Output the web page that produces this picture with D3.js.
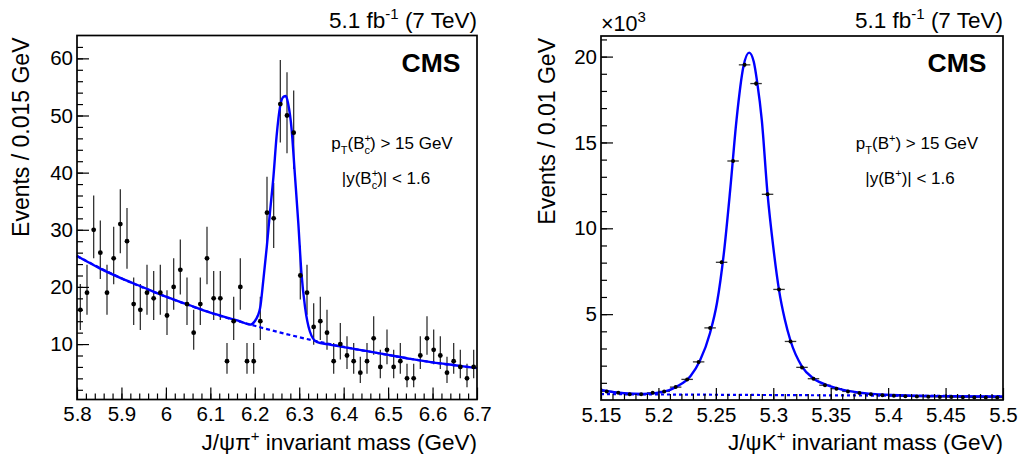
<!DOCTYPE html>
<html>
<head>
<meta charset="utf-8">
<script src="https://cdn.jsdelivr.net/npm/d3@7"></script>
<style>
  body { margin: 0; background: #fff; }
  svg { display: block; font-family: "Liberation Sans", Arial, Helvetica, sans-serif; }
</style>
</head>
<body>
<div id="root"></div>
<script>
// ---- left panel: J/psi pi+ (Bc) ----
const bcMassLow = 5.8, bcBinWidth = 0.015;
const bcCounts = [16, 19, 30, 26, 19, 25, 31, 28, 17, 16,
                  19, 18, 19, 15, 20, 23, 17, 12, 17, 25,
                  18, 18, 7, 14, 20, 7, 7, 14, 33, 32,
                  52, 50, 47, 22, 19, 13, 14, 12, 7, 10,
                  8, 7, 5, 7, 11, 6, 9, 6, 7, 4,
                  4, 8, 11, 9, 8, 5, 7, 6, 4, 6];
// fit curves
const bcFitMass = [5.8, 5.85, 5.9, 5.95, 6.0, 6.05, 6.1, 6.144, 6.17, 6.189,
                   6.2, 6.207, 6.212, 6.219, 6.227, 6.234, 6.242, 6.249, 6.257, 6.265,
                   6.27, 6.275, 6.283, 6.29, 6.298, 6.305, 6.313, 6.324, 6.339, 6.369,
                   6.414, 6.45, 6.5, 6.55, 6.6, 6.65, 6.7];
const bcFitVal = [25.4, 23.3, 21.5, 19.9, 18.3, 16.9, 15.5, 14.5, 13.9, 13.4,
                  14.0, 15.0, 16.3, 21.0, 27.0, 32.9, 39.3, 46.3, 51.6, 53.3,
                  53.4, 52.1, 47.5, 39.9, 31.1, 22.4, 16.5, 12.2, 10.4, 9.9,
                  9.3, 8.8, 8.1, 7.4, 6.8, 6.3, 5.8];
const bcBkgMass = [5.8, 5.9, 6.0, 6.1, 6.2, 6.3, 6.4, 6.5, 6.6, 6.7];
const bcBkgVal = [25.4, 21.5, 18.3, 15.5, 13.2, 11.2, 9.5, 8.1, 6.8, 5.8];
const bcXTicks = [5.8, 5.9, 6, 6.1, 6.2, 6.3, 6.4, 6.5, 6.6, 6.7];
const bcYTicks = [10, 20, 30, 40, 50, 60];

// ---- right panel: J/psi K+ (B+) ----
const buMassLow = 5.15, buBinWidth = 0.01;
const buCounts = [500, 420, 340, 340, 420, 500, 750, 1200, 2220, 4200,
                  8020, 13920, 19520, 18430, 11980, 6440, 3410, 1900, 1240, 860,
                  660, 500, 410, 330, 270, 250, 220, 200, 190, 180,
                  170, 160, 150, 150, 140];
const buFitMass = [5.15, 5.17, 5.187, 5.204, 5.216, 5.228, 5.236, 5.245, 5.251, 5.257,
                   5.2625, 5.268, 5.274, 5.279, 5.283, 5.286, 5.29, 5.295, 5.3, 5.305,
                   5.31, 5.315, 5.325, 5.335, 5.35, 5.364, 5.393, 5.422, 5.452, 5.5];
const buFitVal = [580, 390, 350, 470, 780, 1400, 2270, 3920, 5660, 8570,
                  12250, 16320, 19420, 20230, 19700, 18500, 16300, 12000, 8900, 6400,
                  4700, 3450, 1950, 1250, 800, 550, 320, 250, 220, 200];
const buBkgMass = [5.15, 5.5];
const buBkgVal = [340, 220];
const buXTicks = [5.15, 5.2, 5.25, 5.3, 5.35, 5.4, 5.45, 5.5];
const buYTicks = [5000, 10000, 15000, 20000];

const width = 1020;
const height = 454;
const blue = "#0000ff";

const svg = d3.select("#root")
  .append("svg")
  .attr("width", width)
  .attr("height", height)
  .attr("viewBox", `0 0 ${width} ${height}`);

function poissonLow(n) { return n + 0.5 - Math.sqrt(n + 0.25); }
function poissonHigh(n) { return n + 0.5 + Math.sqrt(n + 0.25); }

function drawPanel(p) {
  const x = d3.scaleLinear().domain(p.xDomain).range([p.left, p.right]);
  const y = d3.scaleLinear().domain(p.yDomain).range([p.bottom, p.top]);
  const g = svg.append("g");

  const bins = p.counts.map((c, i) => ({
    m: p.massLow + (i + 0.5) * p.binWidth,
    c: c,
  }));

  // error bars
  g.selectAll("line.ey")
    .data(bins)
    .join("line")
    .attr("class", "ey")
    .attr("x1", (d) => x(d.m))
    .attr("x2", (d) => x(d.m))
    .attr("y1", (d) => y(p.errLow(d.c)))
    .attr("y2", (d) => y(p.errHigh(d.c)))
    .attr("stroke", "#333")
    .attr("stroke-width", 1.3);

  if (p.xErrors) {
    g.selectAll("line.ex")
      .data(bins)
      .join("line")
      .attr("class", "ex")
      .attr("x1", (d) => x(d.m - p.binWidth / 2))
      .attr("x2", (d) => x(d.m + p.binWidth / 2))
      .attr("y1", (d) => y(d.c))
      .attr("y2", (d) => y(d.c))
      .attr("stroke", "#333")
      .attr("stroke-width", 1.3);
  }

  // background (dashed) then full fit
  const line = d3.line()
    .x((d) => x(d[0]))
    .y((d) => y(d[1]))
    .curve(d3.curveMonotoneX);

  g.append("path")
    .datum(d3.zip(p.bkgMass, p.bkgVal))
    .attr("d", line)
    .attr("fill", "none")
    .attr("stroke", blue)
    .attr("stroke-width", 2.2)
    .attr("stroke-dasharray", p.dash);

  g.append("path")
    .datum(d3.zip(p.fitMass, p.fitVal))
    .attr("d", line)
    .attr("fill", "none")
    .attr("stroke", blue)
    .attr("stroke-width", 2.4);

  // markers
  g.selectAll("circle")
    .data(bins)
    .join("circle")
    .attr("cx", (d) => x(d.m))
    .attr("cy", (d) => y(d.c))
    .attr("r", p.markerR)
    .attr("fill", "#000");

  // axes with inward ticks (ROOT style)
  const xMajor = g.append("g")
    .attr("transform", `translate(0,${p.bottom})`)
    .call(d3.axisBottom(x).tickValues(p.xTicks).tickSize(-12).tickPadding(7)
      .tickFormat((d) => String(d)));
  const xMinor = g.append("g")
    .attr("transform", `translate(0,${p.bottom})`)
    .call(d3.axisBottom(x).tickValues(p.xMinor).tickSize(-6).tickFormat(""));
  const yMajor = g.append("g")
    .attr("transform", `translate(${p.left},0)`)
    .call(d3.axisLeft(y).tickValues(p.yTicks).tickSize(-12).tickPadding(4)
      .tickFormat(p.yFormat));
  const yMinor = g.append("g")
    .attr("transform", `translate(${p.left},0)`)
    .call(d3.axisLeft(y).tickValues(p.yMinor).tickSize(-6).tickFormat(""));

  [xMajor, xMinor, yMajor, yMinor].forEach((a) => {
    a.select(".domain").remove();
    a.selectAll("line").attr("stroke", "#000").attr("stroke-width", 1.2);
    a.selectAll("text")
      .attr("font-size", 20.5)
      .attr("font-family", "Liberation Sans, Arial, sans-serif")
      .attr("fill", "#000");
  });

  // frame
  g.append("rect")
    .attr("x", p.left)
    .attr("y", p.top)
    .attr("width", p.right - p.left)
    .attr("height", p.bottom - p.top)
    .attr("fill", "none")
    .attr("stroke", "#000")
    .attr("stroke-width", 1.7);

  // titles
  g.append("text")
    .attr("transform", `translate(${p.yTitleX},${p.top + 2}) rotate(-90)`)
    .attr("text-anchor", "end")
    .attr("font-size", 23)
    .text(p.yTitle);

  const xt = g.append("text")
    .attr("x", p.right)
    .attr("y", 449.5)
    .attr("text-anchor", "end")
    .attr("font-size", 22.5);
  xt.append("tspan").text(p.xTitleA);
  xt.append("tspan").attr("font-size", 15).attr("dy", -9).text("+");
  xt.append("tspan").attr("dy", 9).text(" invariant mass (GeV)");

  const lumi = g.append("text")
    .attr("x", p.right)
    .attr("y", 28)
    .attr("text-anchor", "end")
    .attr("font-size", 22.5);
  lumi.append("tspan").text("5.1 fb");
  lumi.append("tspan").attr("font-size", 15).attr("dy", -9).text("-1");
  lumi.append("tspan").attr("dy", 9).text(" (7 TeV)");

  g.append("text")
    .attr("x", p.right - 16.5)
    .attr("y", 72)
    .attr("text-anchor", "end")
    .attr("font-size", 26.5)
    .attr("font-weight", "bold")
    .text("CMS");

  // selection labels
  const s1 = g.append("text")
    .attr("x", p.labelX)
    .attr("y", 149)
    .attr("text-anchor", "middle")
    .attr("font-size", 17);
  s1.append("tspan").text("p");
  s1.append("tspan").attr("font-size", 11).attr("dy", 5).text("T");
  s1.append("tspan").attr("dy", -5).text("(B");
  s1.append("tspan").attr("font-size", 11).attr("dy", -7).text("+");
  if (p.sub) {
    s1.append("tspan").attr("font-size", 11).attr("dx", -6.4).attr("dy", 12).text(p.sub);
    s1.append("tspan").attr("dy", -5).text(") > 15 GeV");
  } else {
    s1.append("tspan").attr("dy", 7).text(") > 15 GeV");
  }

  const s2 = g.append("text")
    .attr("x", p.labelX2)
    .attr("y", 184)
    .attr("text-anchor", "middle")
    .attr("font-size", 17);
  s2.append("tspan").text("|y(B");
  s2.append("tspan").attr("font-size", 11).attr("dy", -7).text("+");
  if (p.sub) {
    s2.append("tspan").attr("font-size", 11).attr("dx", -6.4).attr("dy", 12).text(p.sub);
    s2.append("tspan").attr("dy", -5).text(")| < 1.6");
  } else {
    s2.append("tspan").attr("dy", 7).text(")| < 1.6");
  }

  if (p.multiplier) {
    const m = g.append("text")
      .attr("x", p.left)
      .attr("y", 31)
      .attr("font-size", 21.5);
    m.append("tspan").text("×10");
    m.append("tspan").attr("font-size", 15).attr("dy", -9).text("3");
  }
}

drawPanel({
  left: 77, right: 477, top: 35.5, bottom: 399.5,
  xDomain: [5.8, 6.7], yDomain: [0.3, 64],
  massLow: bcMassLow, binWidth: bcBinWidth, counts: bcCounts,
  errLow: poissonLow, errHigh: poissonHigh, xErrors: false, markerR: 2.4,
  fitMass: bcFitMass, fitVal: bcFitVal, bkgMass: bcBkgMass, bkgVal: bcBkgVal,
  dash: "4,3",
  xTicks: bcXTicks, xMinor: d3.range(5.82, 6.7, 0.02),
  yTicks: bcYTicks, yMinor: d3.range(2, 64, 2), yFormat: (d) => String(d),
  yTitle: "Events / 0.015 GeV", yTitleX: 28.5,
  xTitleA: "J/ψπ",
  labelX: 392, labelX2: 386, sub: "c",
  multiplier: false,
});

drawPanel({
  left: 601, right: 1003, top: 36, bottom: 400,
  xDomain: [5.15, 5.5], yDomain: [0, 21200],
  massLow: buMassLow, binWidth: buBinWidth, counts: buCounts,
  errLow: (n) => n - Math.sqrt(n), errHigh: (n) => n + Math.sqrt(n),
  xErrors: true, markerR: 2,
  fitMass: buFitMass, fitVal: buFitVal, bkgMass: buBkgMass, bkgVal: buBkgVal,
  dash: "3,3",
  xTicks: buXTicks, xMinor: d3.range(5.16, 5.5, 0.01),
  yTicks: buYTicks, yMinor: d3.range(1000, 21200, 1000), yFormat: (d) => String(d / 1000),
  yTitle: "Events / 0.01 GeV", yTitleX: 555,
  xTitleA: "J/ψK",
  labelX: 917, labelX2: 910, sub: null,
  multiplier: true,
});
</script>
</body>
</html>
